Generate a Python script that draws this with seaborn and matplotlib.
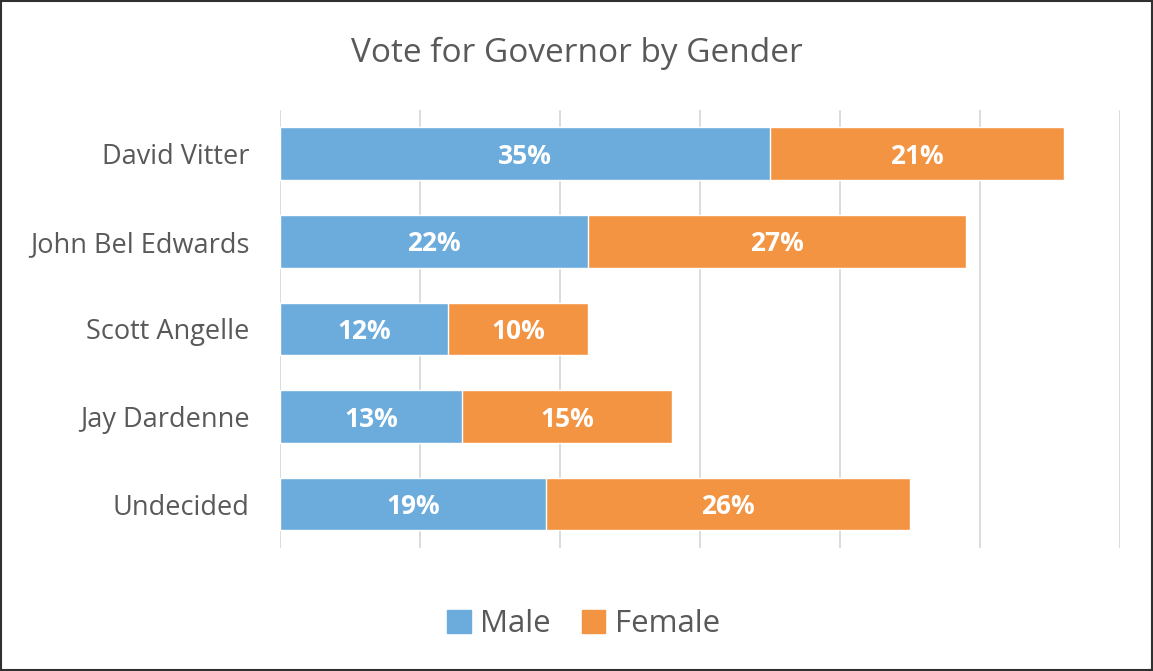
import pandas as pd
import matplotlib.pyplot as plt
import seaborn as sns
from matplotlib.patches import Rectangle

# Data
candidates = ["David Vitter", "John Bel Edwards", "Scott Angelle", "Jay Dardenne", "Undecided"]
male = [35, 22, 12, 13, 19]
female = [21, 27, 10, 15, 26]

df = pd.DataFrame({"candidate": candidates, "male": male, "female": female})
df["total"] = df["male"] + df["female"]

blue = "#6CACDD"
orange = "#F39442"
grey_text = "#595959"

sns.set_style("white")
plt.rcParams['font.family'] = ['Open Sans', 'DejaVu Sans']

fig = plt.figure(figsize=(11.53, 6.71), dpi=100)
ax = fig.add_axes([0.2429, 0.1833, 0.7285, 0.653])

# stacked: draw total in orange, male on top in blue
sns.barplot(data=df, y="candidate", x="total", color=orange, orient="h",
            width=0.6, ax=ax, saturation=1, zorder=2)
sns.barplot(data=df, y="candidate", x="male", color=blue, orient="h",
            width=0.6, ax=ax, saturation=1, zorder=3)

# labels
for i, row in df.iterrows():
    ax.text(row["male"] / 2, i + 0.03, f"{row['male']}%", ha="center", va="center",
            color="white", fontsize=19, fontweight="bold", zorder=4)
    ax.text(row["male"] + row["female"] / 2, i + 0.03, f"{row['female']}%", ha="center",
            va="center", color="white", fontsize=19, fontweight="bold", zorder=4)

ax.set_xlim(0, 60)
ax.set_ylim(4.5, -0.5)
ax.set_xticks(range(0, 61, 10))
ax.set_xticklabels([])
ax.grid(axis="x", color="#D9D9D9", linewidth=1.3, zorder=0)
ax.tick_params(axis="both", length=0)
for s in ax.spines.values():
    s.set_visible(False)
ax.set_xlabel("")
ax.set_ylabel("")
ax.tick_params(axis="y", labelsize=19.5, labelcolor=grey_text, pad=22)

fig.text(0.5, 0.92, "Vote for Governor by Gender", ha="center", va="center",
         fontsize=24, color=grey_text)

# legend
handles = [Rectangle((0, 0), 1, 1, color=blue), Rectangle((0, 0), 1, 1, color=orange)]
fig.legend(handles, ["Male", "Female"], loc="center", bbox_to_anchor=(0.506, 0.07),
           ncol=2, frameon=False, fontsize=22.5, labelcolor=grey_text,
           handlelength=0.75, handleheight=0.75, handletextpad=0.3, columnspacing=1.0)

# outer border
fig.patches.append(Rectangle((0.001, 0.001), 0.998, 0.998, transform=fig.transFigure,
                             fill=False, edgecolor="#303030", linewidth=1.5))

plt.savefig("out.png", dpi=100)
